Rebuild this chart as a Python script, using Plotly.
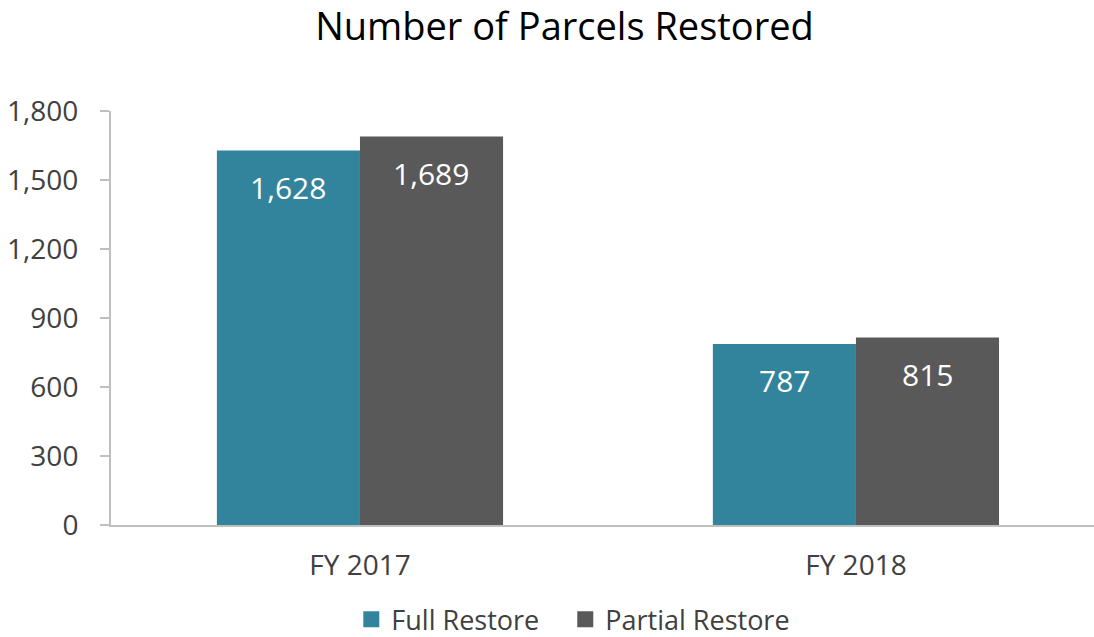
import plotly.graph_objects as go

categories = ["FY 2017", "FY 2018"]
full_restore = [1628, 787]
partial_restore = [1689, 815]
series_names = ["Full Restore", "Partial Restore"]
y_ticks = [0, 300, 600, 900, 1200, 1500, 1800]

colors = ["#31849B", "#595959"]
FONT = "Open Sans"

fig = go.Figure()
for name, vals, col in zip(series_names, [full_restore, partial_restore], colors):
    fig.add_trace(go.Bar(x=categories, y=vals, name=name, marker_color=col,
                         marker_line_width=0, showlegend=False))
# legend entries with larger square swatches
for name, col in zip(series_names, colors):
    fig.add_trace(go.Scatter(x=[None], y=[None], mode="markers", name=name + "   ",
                             marker=dict(symbol="square", size=17, color=col),
                             showlegend=True))

bar_half = 71.5
for vals, sh in [(full_restore, -bar_half), (partial_restore, bar_half)]:
    for c, v in zip(categories, vals):
        fig.add_annotation(x=c, y=v, text=f"{v:,}", showarrow=False,
                           xshift=sh, yshift=-37,
                           font=dict(family=FONT, size=30, color="white"))

fig.update_layout(
    width=1094, height=637,
    paper_bgcolor="white", plot_bgcolor="white",
    margin=dict(l=111, r=0, t=111, b=112, autoexpand=False),
    barmode="group", bargap=0.423, bargroupgap=0,
    title=dict(text="Number of Parcels Restored", x=0.516, xanchor="center",
               y=0.958, yanchor="middle",
               font=dict(family=FONT, size=38, color="black")),
    font=dict(family=FONT, color="#404040"),
    legend=dict(orientation="h", x=0.481, xanchor="center", y=-0.229, yanchor="middle",
                font=dict(family=FONT, size=27, color="#404040"),
                itemsizing="trace", traceorder="normal", tracegroupgap=0,
                itemwidth=30, borderwidth=0),
    showlegend=True,
)
fig.update_yaxes(range=[0, 1800], tickvals=y_ticks, tickformat=",",
                 showgrid=False, showline=True, linecolor="#BFBFBF", linewidth=2,
                 ticks="outside", ticklen=9, tickcolor="#BFBFBF", tickwidth=2,
                 ticklabelstandoff=16,
                 tickfont=dict(family=FONT, size=28, color="#404040"), zeroline=False)
fig.update_xaxes(range=[-0.502, 1.480], showline=True, linecolor="#BFBFBF", linewidth=2,
                 showgrid=False, ticks="", ticklabelstandoff=14,
                 tickfont=dict(family=FONT, size=28, color="#404040"))

fig.write_html("out.html", config={"displayModeBar": False},
               post_script="document.body.style.margin='0';")
